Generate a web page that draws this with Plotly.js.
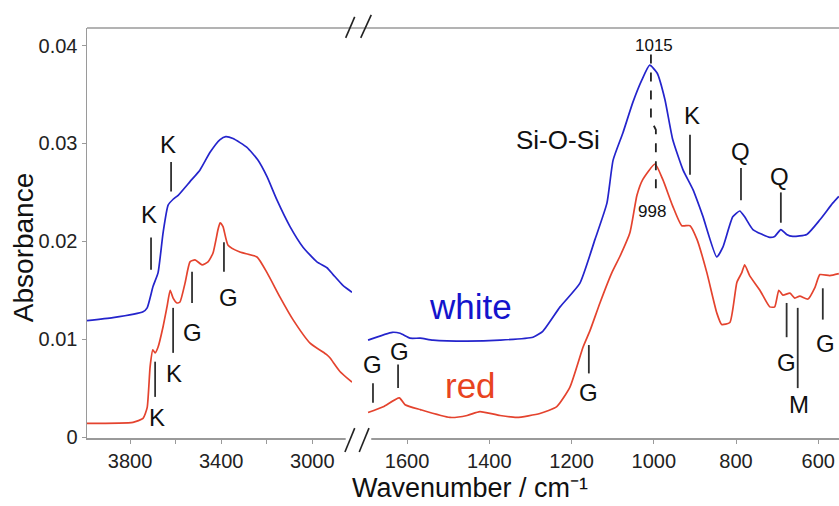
<!DOCTYPE html>
<html>
<head>
<meta charset="utf-8">
<script src="https://cdn.plot.ly/plotly-3.0.1.min.js"></script>
<style>html,body{margin:0;padding:0;background:#fff;}</style>
</head>
<body>
<div id="chart" style="width:839px;height:506px;"></div>
<script>
// ---- spectra: high-wavenumber segment ----
const whiteLeftWn = [3989,3875,3743,3725,3699,3677,3655,3633,3611,3589,3537,3493,3449,3405,3380,3348,3287,3239,3199,3155,3098,3041,2980,2936,2909,2866,2826];
const whiteLeftAbs = [0.0119,0.0122,0.0128,0.0132,0.0154,0.0168,0.0209,0.0237,0.0243,0.0247,0.0261,0.0273,0.0291,0.0304,0.0307,0.0305,0.0296,0.0283,0.0266,0.0242,0.0215,0.0194,0.0179,0.0173,0.0166,0.0155,0.0148];
const redLeftWn = [3989,3787,3743,3725,3712,3700,3690,3677,3655,3638,3624,3611,3594,3581,3559,3537,3515,3484,3458,3436,3414,3405,3392,3370,3318,3243,3199,3142,3085,3010,2936,2923,2879,2826];
const redLeftAbs = [0.0014,0.0015,0.0019,0.0030,0.0072,0.0089,0.0086,0.0092,0.0113,0.0133,0.0150,0.0142,0.0137,0.0138,0.0157,0.0179,0.0181,0.0176,0.0179,0.0188,0.0212,0.0219,0.0215,0.0196,0.0189,0.0184,0.0168,0.0143,0.0120,0.0096,0.0084,0.0081,0.0067,0.0056];

// ---- spectra: low-wavenumber segment ----
const whiteRightWn = [1695,1636,1617,1593,1568,1537,1454,1374,1294,1270,1228,1180,1143,1114,1099,1075,1051,1029,1010,992,973,954,929,905,881,847,832,808,791,779,759,718,706,691,677,662,628,596,565,550];
const whiteRightAbs = [0.0099,0.0107,0.0106,0.0101,0.0101,0.0099,0.0098,0.0099,0.0102,0.0108,0.0133,0.0157,0.0202,0.0239,0.0283,0.0311,0.0342,0.0365,0.0380,0.0372,0.0345,0.0304,0.0273,0.0253,0.0226,0.0184,0.0194,0.0225,0.0231,0.0225,0.0212,0.0204,0.0205,0.0212,0.0207,0.0205,0.0207,0.0222,0.0239,0.0246];
const redRightWn = [1695,1658,1619,1605,1568,1496,1454,1423,1374,1333,1277,1236,1204,1172,1155,1131,1102,1082,1058,1041,1027,997,978,954,932,912,895,871,847,835,815,798,786,779,767,742,718,706,696,686,669,657,645,625,608,596,572,550];
const redRightAbs = [0.0025,0.0031,0.0040,0.0033,0.0028,0.0020,0.0022,0.0026,0.0022,0.0020,0.0024,0.0031,0.0051,0.0092,0.0109,0.0137,0.0168,0.0185,0.0209,0.0247,0.0263,0.0279,0.0263,0.0236,0.0216,0.0216,0.0202,0.0168,0.0127,0.0115,0.0117,0.0158,0.0168,0.0176,0.0165,0.0150,0.0133,0.0133,0.0150,0.0145,0.0147,0.0142,0.0144,0.0141,0.0153,0.0166,0.0165,0.0167];

// ---- band assignments ----
const bandAxis   = ['x','x','x','x','x','x','x2','x2','x2','x2','x2','x2','x2','x2','x2'];
const bandLabel  = ['K','K','K','K','G','G','G','G','G','K','Q','Q','G','M','G'];
const bandWn     = [3708,3620,3690,3611,3528,3388,1683,1622,1158,912,788,691,677,650,589];
const bandY0     = [0.0204,0.0281,0.0077,0.0132,0.0169,0.0199,0.0055,0.0074,0.0094,0.0309,0.0275,0.0250,0.0137,0.0132,0.0152];
const bandY1     = [0.0171,0.0251,0.0041,0.0086,0.0137,0.0169,0.0035,0.0050,0.0065,0.0268,0.0242,0.0219,0.0102,0.0050,0.0120];
const bandLabelWn = [3717,3633,3682,3607,3528,3370,1683,1619,1160,907,788,694,677,647,582];
const bandLabelY  = [0.0227,0.0299,0.0020,0.0065,0.0107,0.0143,0.0074,0.0087,0.0045,0.0329,0.0292,0.0266,0.0076,0.0033,0.0096];

// ---- other texts ----
const peakWhite = 1015, peakRed = 998;
const yTicks = [0, 0.01, 0.02, 0.03, 0.04];
const yTickText = ['0','0.01','0.02','0.03','0.04'];
const xLeftTicks = [3800,3600,3400,3200,3000];
const xLeftText = ['3800','','3400','','3000'];
const xRightTicks = [1600,1400,1200,1000,800,600];
const xRightText = ['1600','1400','1200','1000','800','600'];

const FONT = '"Liberation Sans", Arial, Helvetica, sans-serif';
const BLUE = '#2424cc';
const RED = '#e4432e';
const AXC = '#9a9a9a';

const lineStyle = c => ({color:c, width:1.7, shape:'spline', smoothing:0.5});
const traces = [
  {x: whiteLeftWn, y: whiteLeftAbs, xaxis:'x', yaxis:'y', mode:'lines', line:lineStyle(BLUE), hoverinfo:'skip'},
  {x: whiteRightWn, y: whiteRightAbs, xaxis:'x2', yaxis:'y', mode:'lines', line:lineStyle(BLUE), hoverinfo:'skip'},
  {x: redLeftWn, y: redLeftAbs, xaxis:'x', yaxis:'y', mode:'lines', line:lineStyle(RED), hoverinfo:'skip'},
  {x: redRightWn, y: redRightAbs, xaxis:'x2', yaxis:'y', mode:'lines', line:lineStyle(RED), hoverinfo:'skip'}
];

const shapes = [];
const annotations = [];
for (let i = 0; i < bandLabel.length; i++) {
  shapes.push({type:'line', xref:bandAxis[i], yref:'y', x0:bandWn[i], x1:bandWn[i], y0:bandY0[i], y1:bandY1[i],
    line:{color:'#303030', width:1.8}});
  annotations.push({xref:bandAxis[i], yref:'y', x:bandLabelWn[i], y:bandLabelY[i], text:bandLabel[i], showarrow:false,
    xanchor:'center', yanchor:'middle', font:{family:FONT, size:24, color:'#111'}});
}
// dashed guide between the two Si-O-Si maxima
shapes.push({type:'path', xref:'x2', yref:'y',
  path:'M1007,0.0391 L1007,0.0324 L995,0.0314 L995,0.0251',
  line:{color:'#222', width:1.8, dash:'dash'}});
// top frame line
shapes.push({type:'line', xref:'paper', yref:'paper', x0:0, x1:1, y0:1, y1:1, line:{color:AXC, width:1.5}});
// hide bottom axis line inside the break
shapes.push({type:'rect', xref:'paper', yref:'paper', x0:0.344, x1:0.378, y0:-0.012, y1:0.004, fillcolor:'#fff', line:{width:0}, layer:'above'});
// axis break marks
const brk = [[0.343,-0.034,0.356,0.024],[0.362,-0.034,0.375,0.024],[0.344,0.976,0.356,1.027],[0.364,0.976,0.378,1.032]];
brk.forEach(b => shapes.push({type:'line', xref:'paper', yref:'paper', x0:b[0], y0:b[1], x1:b[2], y1:b[3], line:{color:'#222', width:1.6}}));

annotations.push({xref:'x2', yref:'y', x:1000, y:0.0400, text:String(peakWhite), showarrow:false, font:{family:FONT, size:17, color:'#111'}});
annotations.push({xref:'x2', yref:'y', x:1005, y:0.0230, text:String(peakRed), showarrow:false, font:{family:FONT, size:17, color:'#111'}});
annotations.push({xref:'x2', yref:'y', x:1233, y:0.0304, text:'Si-O-Si', showarrow:false, font:{family:FONT, size:26, color:'#111'}});
annotations.push({xref:'x2', yref:'y', x:1447, y:0.0133, text:'white', showarrow:false, font:{family:FONT, size:35, color:'#1414cc'}});
annotations.push({xref:'x2', yref:'y', x:1447, y:0.0053, text:'red', showarrow:false, font:{family:FONT, size:35, color:'#e8441f'}});
annotations.push({xref:'paper', yref:'paper', x:0.509, y:-0.122, text:'Wavenumber / cm\u207B\u00B9', showarrow:false,
  xanchor:'center', yanchor:'middle', font:{family:FONT, size:27, color:'#111'}});
annotations.push({xref:'paper', yref:'paper', x:-0.0851, y:0.463, text:'Absorbance', textangle:-90, showarrow:false,
  xanchor:'center', yanchor:'middle', font:{family:FONT, size:28, color:'#111'}});

const axisCommon = {showline:true, linecolor:AXC, linewidth:1.5, ticks:'outside', ticklen:4, tickcolor:AXC,
  showgrid:false, zeroline:false, tickfont:{family:FONT, size:20, color:'#222'}, fixedrange:true};

const layout = {
  width:839, height:506,
  margin:{l:87, r:0, t:28, b:68},
  paper_bgcolor:'#fff', plot_bgcolor:'#fff',
  showlegend:false,
  font:{family:FONT},
  xaxis: Object.assign({}, axisCommon, {domain:[0, 0.3524], range:[3989, 2826], tickmode:'array', tickvals:xLeftTicks, ticktext:xLeftText, anchor:'y'}),
  xaxis2: Object.assign({}, axisCommon, {domain:[0.371, 1], range:[1700, 549.6], tickmode:'array', tickvals:xRightTicks, ticktext:xRightText, anchor:'y'}),
  yaxis: Object.assign({}, axisCommon, {range:[-0.0001, 0.0418], tickmode:'array', tickvals:yTicks, ticktext:yTickText}),
  shapes: shapes,
  annotations: annotations
};

Plotly.newPlot('chart', traces, layout, {staticPlot:true, displayModeBar:false});
</script>
</body>
</html>
